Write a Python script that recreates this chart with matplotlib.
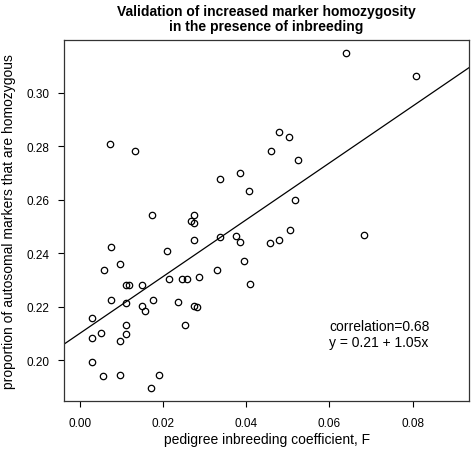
import numpy as np
import matplotlib.pyplot as plt

plt.rcParams['font.family'] = ['Liberation Sans', 'DejaVu Sans']

# pedigree inbreeding coefficient F and observed homozygosity
F = [0.0072, 0.0131, 0.0337, 0.0385, 0.0406, 0.0458, 0.0173, 0.0273,
     0.0267, 0.0274, 0.0337, 0.0375, 0.0385, 0.0457, 0.0478, 0.0504,
     0.0683, 0.0639, 0.0809, 0.0478, 0.0503, 0.0525, 0.0516, 0.0075,
     0.0057, 0.0096, 0.0111, 0.0117, 0.0148, 0.0075, 0.0110, 0.0148,
     0.0156, 0.0175, 0.0027, 0.0110, 0.0051, 0.0027, 0.0110, 0.0095,
     0.0027, 0.0055, 0.0096, 0.0171, 0.0189, 0.0209, 0.0214, 0.0244,
     0.0256, 0.0287, 0.0236, 0.0274, 0.0280, 0.0253, 0.0274, 0.0328,
     0.0395, 0.0409]
hom = [0.2809, 0.2782, 0.2678, 0.2699, 0.2632, 0.2782, 0.2541, 0.2541,
       0.2521, 0.2514, 0.2460, 0.2463, 0.2443, 0.2438, 0.2448, 0.2488,
       0.2468, 0.3149, 0.3062, 0.2853, 0.2835, 0.2749, 0.2598, 0.2423,
       0.2337, 0.2358, 0.2279, 0.2279, 0.2279, 0.2226, 0.2212, 0.2201,
       0.2185, 0.2226, 0.2159, 0.2133, 0.2102, 0.2081, 0.2096, 0.2070,
       0.1991, 0.1939, 0.1944, 0.1897, 0.1944, 0.2409, 0.2305, 0.2305,
       0.2305, 0.2311, 0.2218, 0.2201, 0.2198, 0.2133, 0.2448, 0.2337,
       0.2371, 0.2285]

xticks = [0.00, 0.02, 0.04, 0.06, 0.08]
yticks = [0.20, 0.22, 0.24, 0.26, 0.28, 0.30]

F = np.array(F)
hom = np.array(hom)
slope, intercept = np.polyfit(F, hom, 1)

fig = plt.figure(figsize=(4.74, 4.52), dpi=100)
ax = fig.add_axes([0.1357, 0.1106, 0.8538, 0.7994])

ax.plot(F, hom, 'o', mfc='none', mec='black', ms=4.6, mew=0.9)
ax.axline((0, intercept), slope=slope, color='black', lw=0.9)

ax.set_xlim(-0.00385, 0.0936)
ax.set_ylim(0.1847, 0.3198)
ax.set_xticks(xticks)
ax.set_yticks(yticks)
ax.set_xticklabels(['%.2f' % t for t in xticks])
ax.set_yticklabels(['%.2f' % t for t in yticks])
ax.tick_params(direction='out', length=4.5, width=0.8, labelsize=8.5)
ax.tick_params(axis='x', pad=7)
ax.tick_params(axis='y', pad=6.5)
for s in ax.spines.values():
    s.set_linewidth(0.9)
    s.set_color('#333333')

ax.text(0.0599, 0.2128, 'correlation=0.68', fontsize=10, va='center')
ax.text(0.0599, 0.2066, 'y = 0.21 + 1.05x', fontsize=10, va='center')

ax.set_xlabel('pedigree inbreeding coefficient, F', fontsize=10, labelpad=2)
ax.set_ylabel('proportion of autosomal markers that are homozygous', fontsize=10, labelpad=7)
ax.set_title('Validation of increased marker homozygosity\nin the presence of inbreeding',
             fontsize=10, fontweight='bold', pad=7, linespacing=1.1)

fig.savefig('out.png', dpi=100)
